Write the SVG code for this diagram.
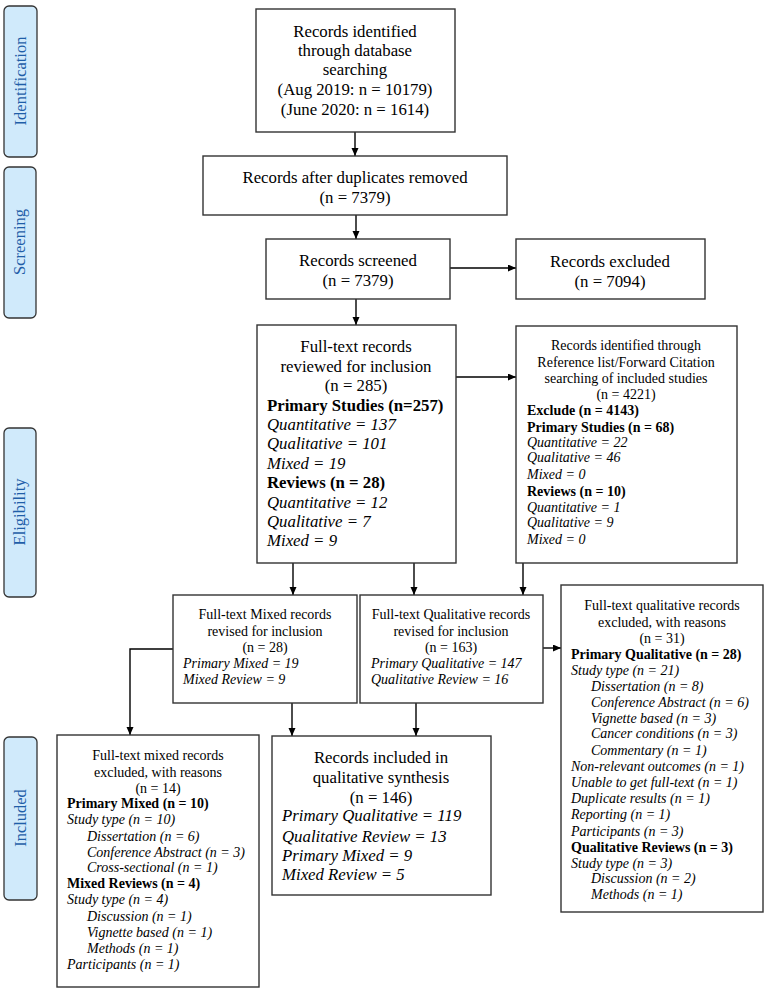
<svg xmlns="http://www.w3.org/2000/svg" width="768" height="992" viewBox="0 0 768 992">
<defs>
<marker id="ah" markerUnits="userSpaceOnUse" markerWidth="9" markerHeight="8" refX="8" refY="3.5" orient="auto">
<path d="M0,0 L8,3.5 L0,7 z" fill="#000"/>
</marker>
</defs>
<style>
.box{fill:#fff;stroke:#333;stroke-width:1.4}
.lab{fill:#d0eafb;stroke:#333;stroke-width:1.3}
.lt{font-family:"Liberation Serif","Times New Roman",serif;font-size:16.5px;fill:#1f5ea8;text-anchor:middle}
.t{font-family:"Liberation Serif","Times New Roman",serif;font-size:16.8px;fill:#000}
.s{font-family:"Liberation Serif","Times New Roman",serif;font-size:14px;fill:#000}
.c{text-anchor:middle}
.b{font-weight:bold}
.i{font-style:italic}
.ln{fill:none;stroke:#000;stroke-width:1.4}
</style>
<g id="label-identification"><rect class="lab" x="4" y="6" width="33" height="151" rx="5"/><text class="lt" transform="translate(26,81) rotate(-90)">Identification</text></g>
<g id="label-screening"><rect class="lab" x="4" y="167" width="32" height="151" rx="5"/><text class="lt" transform="translate(25,242) rotate(-90)">Screening</text></g>
<g id="label-eligibility"><rect class="lab" x="4" y="428" width="32" height="169" rx="5"/><text class="lt" transform="translate(25,512) rotate(-90)">Eligibility</text></g>
<g id="label-included"><rect class="lab" x="4" y="737" width="33" height="163" rx="5"/><text class="lt" transform="translate(26,818) rotate(-90)">Included</text></g>

<g id="connectors">
<path class="ln" d="M355,132 V156" marker-end="url(#ah)"/>
<path class="ln" d="M356,215 V239" marker-end="url(#ah)"/>
<path class="ln" d="M450,268 H516" marker-end="url(#ah)"/>
<path class="ln" d="M356,299 V325" marker-end="url(#ah)"/>
<path class="ln" d="M456,377 H516" marker-end="url(#ah)"/>
<path class="ln" d="M293,563 V595" marker-end="url(#ah)"/>
<path class="ln" d="M414,563 V595" marker-end="url(#ah)"/>
<path class="ln" d="M523,563 V595" marker-end="url(#ah)"/>
<path class="ln" d="M543,648 H561" marker-end="url(#ah)"/>
<path class="ln" d="M173,649 H130 V735" marker-end="url(#ah)"/>
<path class="ln" d="M292,703 V736" marker-end="url(#ah)"/>
<path class="ln" d="M416,703 V736" marker-end="url(#ah)"/>
</g>

<g id="identified">
<rect class="box" x="256" y="9" width="199" height="123"/>
<text class="t c" x="355" y="37">Records identified</text>
<text class="t c" x="355" y="56">through database</text>
<text class="t c" x="355" y="75">searching</text>
<text class="t c" x="355" y="95">(Aug 2019: n = 10179)</text>
<text class="t c" x="355" y="115">(June 2020: n = 1614)</text>
</g>
<g id="duplicates">
<rect class="box" x="203" y="156" width="304" height="59"/>
<text class="t c" x="355" y="183">Records after duplicates removed</text>
<text class="t c" x="355" y="203">(n = 7379)</text>
</g>
<g id="screened">
<rect class="box" x="266" y="239" width="184" height="60"/>
<text class="t c" x="358" y="266">Records screened</text>
<text class="t c" x="358" y="286">(n = 7379)</text>
</g>
<g id="excluded">
<rect class="box" x="516" y="239" width="189" height="60"/>
<text class="t c" x="610" y="267">Records excluded</text>
<text class="t c" x="610" y="287">(n = 7094)</text>
</g>
<g id="fulltext">
<rect class="box" x="257" y="325" width="199" height="238"/>
<text class="t c" x="356" y="352">Full-text records</text>
<text class="t c" x="356" y="372">reviewed for inclusion</text>
<text class="t c" x="356" y="391">(n = 285)</text>
<text class="t b" x="267" y="411">Primary Studies (n=257)</text>
<text class="t i" x="267" y="430">Quantitative = 137</text>
<text class="t i" x="267" y="449">Qualitative = 101</text>
<text class="t i" x="267" y="469">Mixed = 19</text>
<text class="t b" x="267" y="488">Reviews (n = 28)</text>
<text class="t i" x="267" y="508">Quantitative = 12</text>
<text class="t i" x="267" y="527">Qualitative = 7</text>
<text class="t i" x="267" y="546">Mixed = 9</text>
</g>
<g id="reference">
<rect class="box" x="516" y="326" width="221" height="237"/>
<text class="s c" x="626" y="350">Records identified through</text>
<text class="s c" x="626" y="367">Reference list/Forward Citation</text>
<text class="s c" x="626" y="383">searching of included studies</text>
<text class="s c" x="626" y="399">(n = 4221)</text>
<text class="s b" x="527" y="415">Exclude (n = 4143)</text>
<text class="s b" x="527" y="432">Primary Studies (n = 68)</text>
<text class="s i" x="527" y="447">Quantitative = 22</text>
<text class="s i" x="527" y="462">Qualitative = 46</text>
<text class="s i" x="527" y="479">Mixed = 0</text>
<text class="s b" x="527" y="496">Reviews (n = 10)</text>
<text class="s i" x="527" y="512">Quantitative = 1</text>
<text class="s i" x="527" y="527">Qualitative = 9</text>
<text class="s i" x="527" y="544">Mixed = 0</text>
</g>
<g id="mixed">
<rect class="box" x="173" y="595" width="184" height="108"/>
<text class="s c" x="265" y="619">Full-text Mixed records</text>
<text class="s c" x="265" y="636">revised for inclusion</text>
<text class="s c" x="265" y="652">(n = 28)</text>
<text class="s i" x="183" y="668">Primary Mixed = 19</text>
<text class="s i" x="183" y="684">Mixed Review = 9</text>
</g>
<g id="qualitative">
<rect class="box" x="360" y="595" width="183" height="108"/>
<text class="s c" x="451" y="619">Full-text Qualitative records</text>
<text class="s c" x="451" y="636">revised for inclusion</text>
<text class="s c" x="451" y="652">(n = 163)</text>
<text class="s i" x="371" y="668">Primary Qualitative = 147</text>
<text class="s i" x="371" y="684">Qualitative Review = 16</text>
</g>
<g id="qual-excluded">
<rect class="box" x="561" y="585" width="202" height="327"/>
<text class="s c" x="662" y="610">Full-text qualitative records</text>
<text class="s c" x="662" y="627">excluded, with reasons</text>
<text class="s c" x="662" y="643">(n = 31)</text>
<text class="s b" x="571" y="659">Primary Qualitative (n = 28)</text>
<text class="s i" x="571" y="675">Study type (n = 21)</text>
<text class="s i" x="591" y="691">Dissertation (n = 8)</text>
<text class="s i" x="591" y="707">Conference Abstract (n = 6)</text>
<text class="s i" x="591" y="723">Vignette based (n = 3)</text>
<text class="s i" x="591" y="738">Cancer conditions (n = 3)</text>
<text class="s i" x="591" y="755">Commentary (n = 1)</text>
<text class="s i" x="571" y="771">Non-relevant outcomes (n = 1)</text>
<text class="s i" x="571" y="787">Unable to get full-text (n = 1)</text>
<text class="s i" x="571" y="803">Duplicate results (n = 1)</text>
<text class="s i" x="571" y="819">Reporting (n = 1)</text>
<text class="s i" x="571" y="836">Participants (n = 3)</text>
<text class="s b" x="571" y="852">Qualitative Reviews (n = 3)</text>
<text class="s i" x="571" y="868">Study type (n = 3)</text>
<text class="s i" x="591" y="883">Discussion (n = 2)</text>
<text class="s i" x="591" y="899">Methods (n = 1)</text>
</g>
<g id="mixed-excluded">
<rect class="box" x="57" y="735" width="202" height="252"/>
<text class="s c" x="158" y="760">Full-text mixed records</text>
<text class="s c" x="158" y="777">excluded, with reasons</text>
<text class="s c" x="158" y="793">(n = 14)</text>
<text class="s b" x="67" y="808">Primary Mixed (n = 10)</text>
<text class="s i" x="67" y="824">Study type (n = 10)</text>
<text class="s i" x="87" y="841">Dissertation (n = 6)</text>
<text class="s i" x="87" y="857">Conference Abstract (n = 3)</text>
<text class="s i" x="87" y="872">Cross-sectional (n = 1)</text>
<text class="s b" x="67" y="888">Mixed Reviews (n = 4)</text>
<text class="s i" x="67" y="904">Study type (n = 4)</text>
<text class="s i" x="87" y="921">Discussion (n = 1)</text>
<text class="s i" x="87" y="937">Vignette based (n = 1)</text>
<text class="s i" x="87" y="953">Methods (n = 1)</text>
<text class="s i" x="67" y="969">Participants (n = 1)</text>
</g>
<g id="included">
<rect class="box" x="272" y="736" width="219" height="159"/>
<text class="t c" x="381" y="763">Records included in</text>
<text class="t c" x="381" y="783">qualitative synthesis</text>
<text class="t c" x="381" y="803">(n = 146)</text>
<text class="t i" x="282" y="821">Primary Qualitative = 119</text>
<text class="t i" x="282" y="842">Qualitative Review = 13</text>
<text class="t i" x="282" y="861">Primary Mixed = 9</text>
<text class="t i" x="282" y="880">Mixed Review = 5</text>
</g>
</svg>
